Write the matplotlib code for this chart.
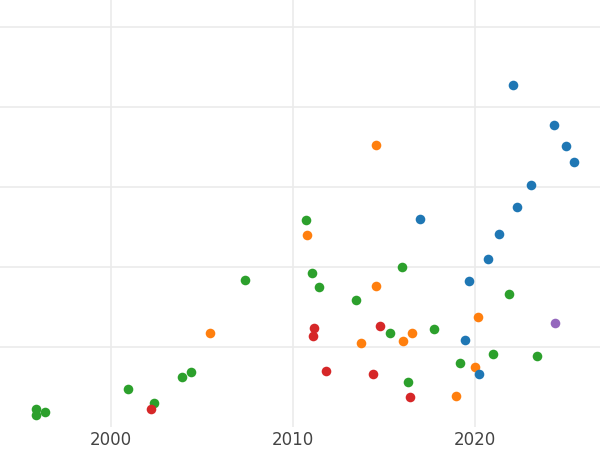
import matplotlib
matplotlib.use("Agg")
import matplotlib.pyplot as plt

green_x = [1995.90, 1995.90, 1996.39, 2000.95, 2002.38, 2003.93, 2004.41, 2007.40, 2010.73, 2011.06,
           2011.43, 2013.46, 2016.01, 2015.36, 2016.34, 2017.76, 2019.19, 2021.02, 2021.90, 2023.44]
green_y = [0.225, 0.15, 0.1875, 0.475, 0.30, 0.629, 0.684, 1.8375, 2.5875, 1.925,
           1.754, 1.591, 2.004, 1.179, 0.5625, 1.229, 0.796, 0.909, 1.666, 0.884]

orange_x = [2005.47, 2010.80, 2014.58, 2014.58, 2013.77, 2016.06, 2016.57, 2018.99, 2020.00, 2020.18]
orange_y = [1.171, 2.40, 3.525, 1.7625, 1.046, 1.071, 1.175, 0.3875, 0.746, 1.375]

red_x = [2002.21, 2011.19, 2011.13, 2011.81, 2014.80, 2014.43, 2016.46]
red_y = [0.225, 1.241, 1.1375, 0.704, 1.2625, 0.666, 0.371]

blue_x = [2017.01, 2022.09, 2024.34, 2025.00, 2025.46, 2023.08, 2022.34, 2021.32, 2020.71, 2019.70, 2019.45, 2020.24]
blue_y = [2.60, 4.271, 3.779, 3.509, 3.316, 3.025, 2.746, 2.416, 2.10, 1.821, 1.0875, 0.666]

purple_x = [2024.40]
purple_y = [1.296]

x_ticks = [2000, 2010, 2020]
y_grid = [1, 2, 3, 4, 5]

fig = plt.figure(figsize=(6, 4.5), dpi=100)
ax = fig.add_axes([0, 23/450, 1, 427/450])

series = [
    (orange_x, orange_y, "#ff7f0e"),
    (green_x, green_y, "#2ca02c"),
    (red_x, red_y, "#d62728"),
    (blue_x, blue_y, "#1f77b4"),
    (purple_x, purple_y, "#9467bd"),
]
for xs, ys, c in series:
    ax.scatter(xs, ys, s=48, color=c, linewidths=0, zorder=3)

ax.set_xlim(1993.92, 2026.88)
ax.set_ylim(0, 427/80)
ax.set_xticks(x_ticks)
ax.set_xticklabels([str(t) for t in x_ticks])
ax.set_yticks(y_grid)
ax.set_yticklabels([])
ax.grid(True, color="#ebebeb", linewidth=1.2, zorder=0)
ax.tick_params(axis="both", length=0, labelsize=12, labelcolor="#444444", pad=3)
for s in ax.spines.values():
    s.set_visible(False)

fig.savefig("out.png", dpi=100)
